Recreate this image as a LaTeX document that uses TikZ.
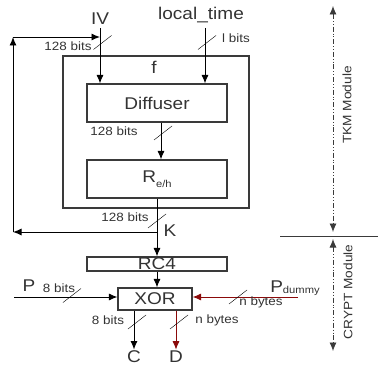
\documentclass[tikz,border=0pt]{standalone}
\usepackage{fontspec}
\setmainfont[FakeStretch=1.12]{Liberation Sans}
\usepackage{tikz}
\usetikzlibrary{arrows.meta}
\definecolor{txtgray}{HTML}{333333}
\definecolor{boxgray}{HTML}{3A3A3A}
\definecolor{dumred}{HTML}{8B0A0A}
\newcommand{\busmark}[2]{\draw[thin] (#1-9,#2+7) -- ++(18,-14);}

\begin{document}
\begin{tikzpicture}[x=1pt, y=-1pt, line width=0.9pt, >={Latex[length=8.5pt,width=7pt]},
  every node/.style={font=\fontsize{12}{12}\selectfont, text=txtgray, inner sep=0pt},
  big/.style={font=\fontsize{17}{17}\selectfont},
  box/.style={draw=boxgray, line width=1.1pt, minimum width=140pt, minimum height=38pt},
  modarrow/.style={<->, boxgray, line width=0.8pt, dash pattern=on 5pt off 2pt on 0.8pt off 2pt on 0.8pt off 2pt},
  modlabel/.style={rotate=90, font=\fontsize{12.2}{12.2}\selectfont}]
  \useasboundingbox (0,0) rectangle (378,369);
  % TKM part
  \node[box, minimum width=186pt, minimum height=152pt] (f) at (156,132) {};
  \node[big] (flabel) at (154,67) {f};
  \node[box, big] (diff) at (157,103) {Diffuser};
  \node[box, big] (reh) at (157,179) {R\raisebox{-5pt}{\fontsize{10}{10}\selectfont e/h}};
  \node[big] (iv) at (100,19) {IV};
  \node[big] (ltime) at (201,15) {local\_time};
  \coordinate (ltin) at (205,28);
  \draw[->, shorten <=3pt] (iv.south) -- (iv.south |- diff.north);
  \draw[->] (ltin) -- (ltin |- diff.north);
  \draw[->] ([xshift=4pt]diff.south) -- ([xshift=4pt]reh.north);
  \node (ivbits) at (68,46) {128 bits};
  \node (ltbits) at (236,38) {l bits};
  \node (diffbits) at (114,131) {128 bits};
  \busmark{102.5}{42.5}
  \busmark{207}{42.5}
  \busmark{163}{133}
  % feedback of K
  \node[box, big, minimum height=14pt] (rc4) at (157,264) {RC4};
  \coordinate (kjoin) at (157,232);
  \coordinate (loopbl) at (13,232);
  \coordinate (looptl) at (13,37);
  \draw[->] (reh.south) -- (rc4.north);
  \draw[->] (kjoin) -- (loopbl);
  \draw[->] (loopbl) -- (looptl);
  \draw[->] (looptl) -- (looptl -| iv);
  \node (kbits) at (125,217) {128 bits};
  \node[big] (k) at (170,231) {K};
  \busmark{157}{221}
  % CRYPT part
  \node[box, big, minimum width=74pt, minimum height=22pt] (xor) at (155,299) {XOR};
  \draw[->] (rc4.south) -- (rc4.south |- xor.north);
  \node[big] (p) at (29,286) {P};
  \node[big] (pdummy) at (295,288) {P\raisebox{-1pt}{\fontsize{10}{10}\selectfont dummy}};
  \coordinate (pin) at (14,297);
  \coordinate (pdin) at (298,297);
  \draw[->] (pin) -- ([yshift=2pt]xor.west);
  \draw[->, dumred] (pdin) -- ([yshift=2pt]xor.east);
  \node[big] (c) at (134,357) {C};
  \node[big] (d) at (176,357) {D};
  \draw[->, shorten >=1pt] (xor.south -| c) -- (c.north);
  \draw[->, dumred, shorten >=1pt] (xor.south -| d) -- (d.north);
  \node (pbits) at (59,288) {8 bits};
  \node (pdbits) at (261,302) {n bytes};
  \node (cbits) at (108,320) {8 bits};
  \node (dbits) at (217,320) {n bytes};
  \busmark{72}{295.5}
  \busmark{238}{297}
  \busmark{137}{322}
  \busmark{179}{322}
  % module ranges
  \coordinate (sepl) at (280,236);
  \coordinate (sepr) at (378,236);
  \coordinate (tkmtop) at (333,6);
  \coordinate (tkmbot) at (333,232);
  \coordinate (crytop) at (333,239);
  \coordinate (crybot) at (333,351);
  \draw[boxgray, line width=1pt] (sepl) -- (sepr);
  \draw[modarrow] (tkmtop) -- (tkmbot);
  \draw[modarrow] (crytop) -- (crybot);
  \node[modlabel] (tkm) at (347,105) {TKM Module};
  \node[modlabel] (crypt) at (348,292) {CRYPT Module};
\end{tikzpicture}
\end{document}
